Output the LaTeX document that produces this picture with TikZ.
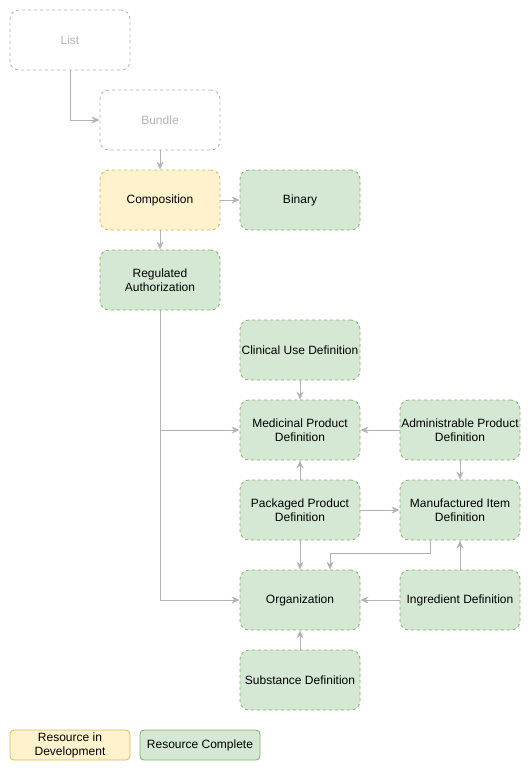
\documentclass[tikz,border=0pt]{standalone}
\usepackage{fontspec}
\setmainfont{Liberation Sans}
\usepackage{xcolor}
\usetikzlibrary{arrows.meta,positioning}
\definecolor{Leaf}{HTML}{D5E8D4}
\definecolor{LeafLine}{HTML}{82B366}
\definecolor{Cream}{HTML}{FFF2CC}
\definecolor{CreamLine}{HTML}{D6B656}
\definecolor{Ash}{HTML}{B3B3B3}

\begin{document}
\begin{tikzpicture}[
  x=1pt,y=-1pt,
  every node/.style={font=\fontsize{12}{14}\selectfont,align=center},
  res/.style={rounded corners=9pt,dash pattern=on 3pt off 3pt,line width=0.8pt,minimum width=120pt,minimum height=60pt,inner sep=1pt},
  done/.style={res,draw=LeafLine,fill=Leaf},
  dev/.style={res,draw=CreamLine,fill=Cream},
  ghost/.style={res,draw=Ash,text=Ash},
  key/.style={rounded corners=4pt,line width=0.8pt,minimum width=120pt,minimum height=30pt,inner sep=1pt},
  arr/.style={-{Stealth[length=8pt,width=7pt,inset=2.5pt]},line width=0.8pt,Ash}
]
\useasboundingbox (0,0) rectangle (531,771);
\node[ghost] (list) at (70,40) {List};
\node[ghost] (bun) at (160,120) {Bundle};
\node[dev] (comp) at (160,200) {Composition};
\node[done] (bin) at (300,200) {Binary};
\node[done] (ra) at (160,280) {Regulated\\Authorization};
\node[done] (cud) at (300,350) {Clinical Use Definition};
\node[done] (mpd) at (300,430) {Medicinal Product\\Definition};
\node[done] (apd) at (460,430) {Administrable Product\\Definition};
\node[done] (ppd) at (300,510) {Packaged Product\\Definition};
\node[done] (mid) at (460,510) {Manufactured Item\\Definition};
\node[done] (org) at (300,600) {Organization};
\node[done] (ing) at (460,600) {Ingredient Definition};
\node[done] (sub) at (300,680) {Substance Definition};
% legend
\node[key,draw=CreamLine,fill=Cream] (kdev) at (70,745) {Resource in\\Development};
\node[key,draw=LeafLine,fill=Leaf] (kdone) at (200,745) {Resource Complete};
% connectors
\draw[arr] (list.south) |- (bun.west);
\draw[arr] (bun) -- (comp);
\draw[arr] (comp) -- (bin);
\draw[arr] (comp) -- (ra);
\draw[arr] (ra.south) |- (mpd.west);
\draw[arr] (ra.south) |- (org.west);
\draw[arr] (cud) -- (mpd);
\draw[arr] (apd) -- (mpd);
\draw[arr] (apd) -- (mid);
\draw[arr] (ppd) -- (mpd);
\draw[arr] (ppd) -- (mid);
\draw[arr] (ppd) -- (org);
\draw[arr] ([xshift=-30pt]mid.south) -- ++(0,13) -| ([xshift=30pt]org.north);
\draw[arr] (ing) -- (mid);
\draw[arr] (ing) -- (org);
\draw[arr] (sub) -- (org);
\end{tikzpicture}
\end{document}
